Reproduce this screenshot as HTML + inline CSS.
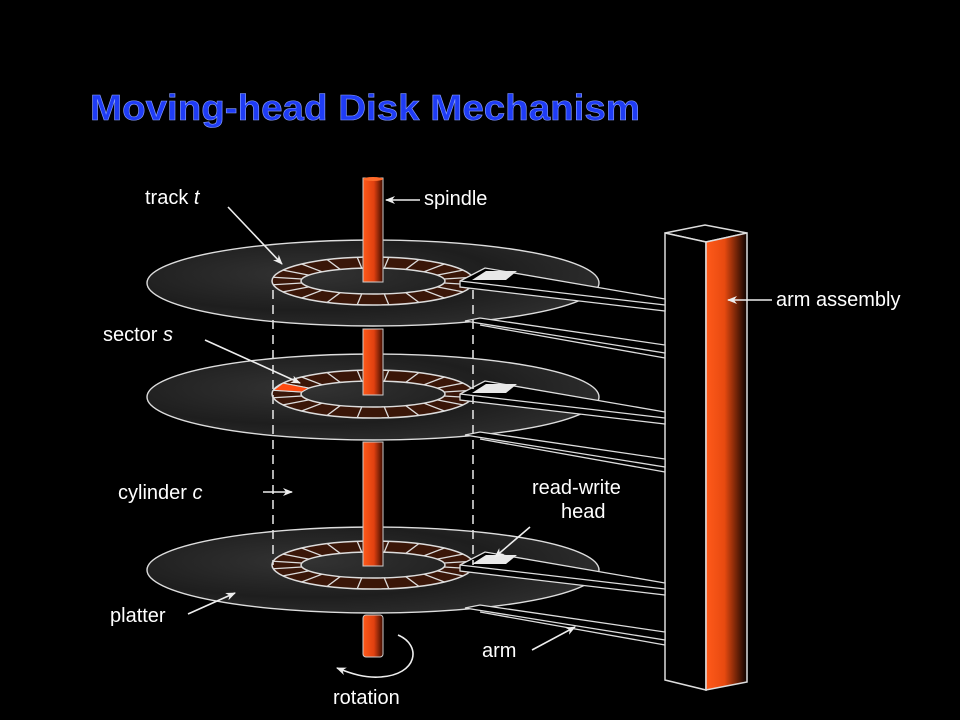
<!DOCTYPE html>
<html><head><meta charset="utf-8"><style>
html,body{margin:0;padding:0;background:#000;width:960px;height:720px;overflow:hidden}
svg{display:block}
text{font-family:"Liberation Sans",sans-serif;fill:#fff}
</style></head><body>
<svg id="s" width="960" height="720" viewBox="0 0 960 720">
<defs>
<radialGradient id="pg" cx="0.35" cy="0.4" r="0.7">
<stop offset="0" stop-color="#333"/><stop offset="0.6" stop-color="#1e1e1e"/><stop offset="1" stop-color="#2e2e2e"/></radialGradient>
<linearGradient id="sp" x1="0" x2="1"><stop offset="0" stop-color="#ff5a1a"/><stop offset="0.55" stop-color="#e04010"/><stop offset="1" stop-color="#3a0c00"/></linearGradient>
<linearGradient id="tw" x1="0" x2="1"><stop offset="0" stop-color="#ff5a1a"/><stop offset="0.45" stop-color="#e84a10"/><stop offset="1" stop-color="#0a0200"/></linearGradient>
<marker id="ah" markerWidth="10" markerHeight="8" refX="9" refY="4" orient="auto" markerUnits="userSpaceOnUse"><path d="M0,0 L10,4 L0,8 L3,4Z" fill="#eee"/></marker>
</defs>
<text x="90" y="120" font-size="36" font-weight="bold" textLength="550" lengthAdjust="spacingAndGlyphs" style="fill:#1f3cf5;stroke:#8aa0ff;stroke-width:0.6">Moving-head Disk Mechanism</text>

<!-- tower -->
<polygon points="665,233 705,225 747,233 706,242" fill="#000" stroke="#ddd" stroke-width="1.5"/>
<polygon points="665,233 706,242 706,690 665,680" fill="#000" stroke="#ddd" stroke-width="1.5"/>
<polygon points="706,242 747,233 747,682 706,690" fill="url(#tw)" stroke="#ddd" stroke-width="1.5"/>

<g id="plats"></g>

<!-- spindle segments -->
<g fill="url(#sp)" stroke="#ccc" stroke-width="1">
<rect x="363" y="178" width="20" height="104"/>
<rect x="363" y="329" width="20" height="66"/>
<rect x="363" y="442" width="20" height="124"/>
<rect x="363" y="615" width="20" height="42" rx="3"/>
</g>
<ellipse cx="373" cy="179" rx="10" ry="2" fill="#ff6a2a"/>

<!-- dashed cylinder -->
<g stroke="#ddd" stroke-width="1.6" stroke-dasharray="9,6">
<line x1="273" y1="290" x2="273" y2="565"/>
<line x1="473" y1="290" x2="473" y2="565"/>
</g>

<!-- arrows & labels -->
<g stroke="#eee" stroke-width="1.6" fill="none" marker-end="url(#ah)">
<line x1="420" y1="200" x2="386" y2="200"/>
<line x1="228" y1="207" x2="282" y2="264"/>
<line x1="205" y1="340" x2="300" y2="383"/>
<line x1="263" y1="492" x2="292" y2="492"/>
<line x1="530" y1="527" x2="495" y2="557"/>
<line x1="188" y1="614" x2="235" y2="593"/>
<line x1="532" y1="650" x2="575" y2="627"/>
<line x1="772" y1="300" x2="728" y2="300"/>
<path d="M398,635 C422,645 418,675 380,677 C365,678 352,674 337,668"/>
</g>
<g font-size="20">
<text x="145" y="204">track <tspan font-style="italic">t</tspan></text>
<text x="424" y="205">spindle</text>
<text x="103" y="341">sector <tspan font-style="italic">s</tspan></text>
<text x="118" y="499">cylinder <tspan font-style="italic">c</tspan></text>
<text x="532" y="494">read-write</text>
<text x="561" y="518">head</text>
<text x="110" y="622">platter</text>
<text x="482" y="657">arm</text>
<text x="333" y="704">rotation</text>
<text x="776" y="306">arm assembly</text>
</g>
</svg>
<script>
const NS="http://www.w3.org/2000/svg",g=document.getElementById('plats');
function el(t,a){const e=document.createElementNS(NS,t);for(const k in a)e.setAttribute(k,a[k]);g.appendChild(e);return e;}
function platter(cy,rc,red){
 el('ellipse',{cx:373,cy:cy,rx:226,ry:43,fill:'url(#pg)',stroke:'#ddd','stroke-width':1.4});
 const by=cy+38;
 el('polygon',{points:`465,${by} 480,${by-3} 665,${by+24} 665,${by+32}`,fill:'#000',stroke:'#ddd','stroke-width':1.3});
 el('line',{x1:480,y1:by+4,x2:665,y2:by+37,stroke:'#ddd','stroke-width':1.3});
 const cx=373,R=101,r=72,Ry=24,ry=13;
 el('path',{d:`M${cx-R},${rc} a${R},${Ry} 0 1,0 ${2*R},0 a${R},${Ry} 0 1,0 ${-2*R},0 Z M${cx-r},${rc} a${r},${ry} 0 1,0 ${2*r},0 a${r},${ry} 0 1,0 ${-2*r},0 Z`,'fill-rule':'evenodd',fill:'#3a1608',stroke:'#ddd','stroke-width':1.5});
 const n=20;
 for(let i=0;i<n;i++){const a=(i+0.5)/n*2*Math.PI;
  el('line',{x1:cx+r*Math.cos(a),y1:rc+ry*Math.sin(a),x2:cx+R*Math.cos(a),y2:rc+Ry*Math.sin(a),stroke:'#ddd','stroke-width':1.3});}
 if(red){const a0=Math.PI*1.05,a1=Math.PI*1.15;
  el('path',{d:`M${cx+r*Math.cos(a0)},${rc+ry*Math.sin(a0)} L${cx+R*Math.cos(a0)},${rc+Ry*Math.sin(a0)} L${cx+R*Math.cos(a1)},${rc+Ry*Math.sin(a1)} L${cx+r*Math.cos(a1)},${rc+ry*Math.sin(a1)}Z`,fill:'#ff4a10',stroke:'#ddd'});}
 const hy=rc;
 el('polygon',{points:`460,${hy} 485,${hy-13} 665,${hy+18} 665,${hy+30} 460,${hy+6}`,fill:'#000',stroke:'#ddd','stroke-width':1.3});
 el('line',{x1:460,y1:hy,x2:665,y2:hy+24,stroke:'#ddd','stroke-width':1.3});
 el('polygon',{points:`472,${hy-1} 486,${hy-10} 517,${hy-10} 506,${hy-1}`,fill:'#e8e8e8'});
}
platter(283,281,false);
platter(397,394,true);
platter(570,565,false);
</script>
</body></html>
